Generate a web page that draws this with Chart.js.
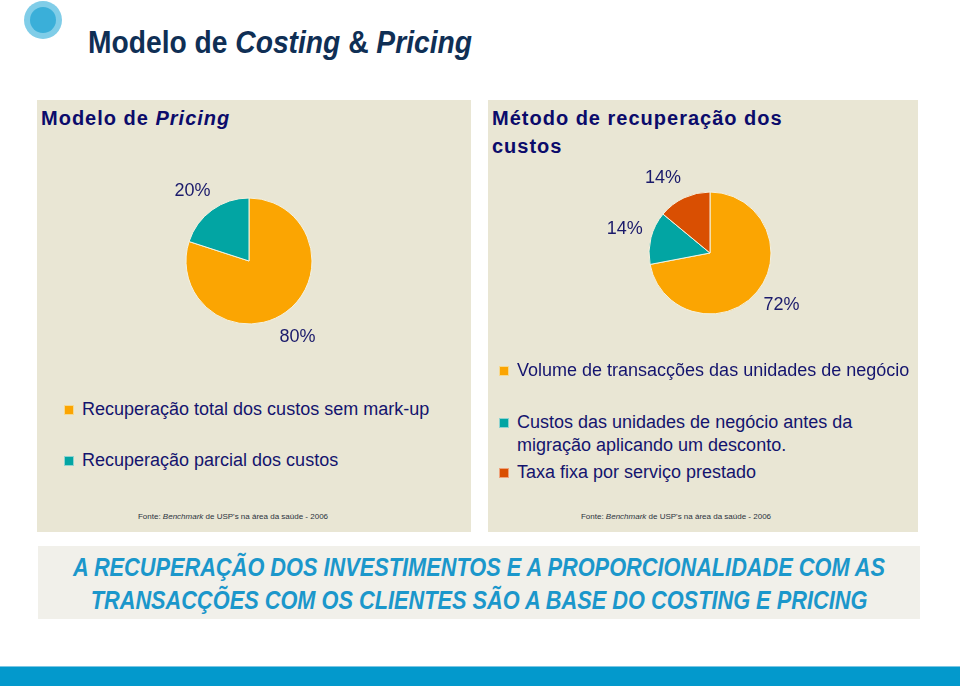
<!DOCTYPE html>
<html>
<head>
<meta charset="utf-8">
<script src="https://cdn.jsdelivr.net/npm/chart.js@4.4.0/dist/chart.umd.min.js"></script>
<style>
  body { margin: 0; width: 960px; height: 686px; background: #fff; position: relative; overflow: hidden;
         font-family: "Liberation Sans", Arial, sans-serif; }
  .abs { position: absolute; }
  .dot { left: 24px; top: 1px; width: 38px; height: 38px; border-radius: 50%; background: #80cde8; }
  .dot::after { content: ''; position: absolute; left: 6px; top: 6px; width: 26px; height: 26px; border-radius: 50%; background: #3aafd9; }
  h1 { position: absolute; left: 88px; top: 25px; margin: 0; font: bold 31px "Liberation Sans", Arial, sans-serif;
       color: #0f2f55; white-space: nowrap; transform: scaleX(0.91); transform-origin: left top; }
  .panel { background: #e9e6d4; }
  .ptitle { font-weight: bold; font-size: 20px; letter-spacing: 1px; color: #0b0b6b; line-height: 28px; }
  .leg { font-size: 18px; color: #14146e; line-height: 23px; white-space: nowrap; }
  .leg .sw { position: absolute; left: 0; top: 7px; width: 8px; height: 8px; border: 1px solid; }
  .leg .tx { position: absolute; left: 18px; top: 0; }
  .src { font-size: 8px; color: #2b3340; white-space: nowrap; transform: translateX(-50%); }
  .banner { left: 38px; top: 546px; width: 882px; height: 73px; background: #f1f0ea; }
  .bline { position: absolute; left: 50%; white-space: nowrap;
           font: italic bold 25px/33px "Liberation Sans", Arial, sans-serif; color: #1b97cb;
           transform: translateX(-50%) scaleX(0.87); transform-origin: center top; }
  .bar { left: 0; top: 666px; width: 960px; height: 20px; background: #0399cc; border-top: 1px solid #7cc6e3; box-sizing: border-box; }
  canvas { position: absolute; }
</style>
</head>
<body>
<div class="abs dot"></div>
<h1>Modelo de <i>Costing</i> &amp; <i>Pricing</i></h1>

<div class="abs panel" style="left:37px;top:100px;width:434px;height:432px"></div>
<div class="abs panel" style="left:488px;top:100px;width:430px;height:432px"></div>

<div class="abs ptitle" style="left:41px;top:104px">Modelo de <i>Pricing</i></div>
<div class="abs ptitle" style="left:492px;top:104px;width:320px">Método de recuperação dos<br>custos</div>

<canvas id="pricing" width="220" height="220" style="left:139px;top:151px"></canvas>
<canvas id="recovery" width="220" height="220" style="left:600px;top:143px"></canvas>

<div id="legPricing"></div>
<div id="legRecovery"></div>

<div class="abs src" style="left:233px;top:512px">Fonte: <i>Benchmark</i> de USP's na área da saúde - 2006</div>
<div class="abs src" style="left:676px;top:512px">Fonte: <i>Benchmark</i> de USP's na área da saúde - 2006</div>

<div class="abs banner">
  <div class="bline" style="top:5px">A RECUPERAÇÃO DOS INVESTIMENTOS E A PROPORCIONALIDADE COM AS</div>
  <div class="bline" style="top:38px">TRANSACÇÕES COM OS CLIENTES SÃO A BASE DO COSTING E PRICING</div>
</div>
<div class="abs bar"></div>

<script>
// data
const pricingLabels = ['Recuperação total dos custos sem mark-up', 'Recuperação parcial dos custos'];
const pricingValues = [80, 20];
const pricingColors = ['#fba502', '#02a5a3'];

const recoveryLabels = [
    'Volume de transacções das unidades de negócio',
    'Custos das unidades de negócio antes da migração aplicando um desconto.',
    'Taxa fixa por serviço prestado'
];
const recoveryValues = [72, 14, 14];
const recoveryColors = ['#fba502', '#02a5a3', '#d94f02'];

// percent labels outside each slice
const outerLabels = {
    id: 'outerLabels',
    afterDatasetsDraw(chart, args, opts) {
        const ctx = chart.ctx;
        const values = chart.data.datasets[0].data;
        ctx.save();
        ctx.font = '18px "Liberation Sans", Arial, sans-serif';
        ctx.fillStyle = '#1a1a6b';
        ctx.textAlign = 'center';
        ctx.textBaseline = 'middle';
        chart.getDatasetMeta(0).data.forEach((arc, i) => {
            const p = arc.getProps(['x', 'y', 'startAngle', 'endAngle', 'outerRadius'], true);
            const mid = (p.startAngle + p.endAngle) / 2 + ((opts.shift && opts.shift[i]) || 0);
            const r = p.outerRadius * opts.dist;
            ctx.fillText(values[i] + '%', p.x + Math.cos(mid) * r, p.y + Math.sin(mid) * r);
        });
        ctx.restore();
    }
};

function makePie(id, labels, values, colors, radius, dist, shift) {
    return new Chart(document.getElementById(id), {
        type: 'pie',
        data: {
            labels: labels,
            datasets: [{
                data: values,
                backgroundColor: colors,
                borderColor: '#f4f1e0',
                borderWidth: 1
            }]
        },
        options: {
            responsive: false,
            animation: false,
            radius: radius,
            plugins: {
                legend: { display: false },
                tooltip: { enabled: false },
                outerLabels: { dist: dist, shift: shift }
            }
        },
        plugins: [outerLabels]
    });
}

makePie('pricing', pricingLabels, pricingValues, pricingColors, 63, 1.43, [0.06, -0.05]);
makePie('recovery', recoveryLabels, recoveryValues, recoveryColors, 61, 1.45, [-0.06, 0.02, -0.12]);

// legends (html, built from the arrays)
function makeLegend(el, labels, colors, left, tops, widths) {
    const host = document.getElementById(el);
    labels.forEach((lab, i) => {
        const item = document.createElement('div');
        item.className = 'abs leg';
        item.style.left = left + 'px';
        item.style.top = tops[i] + 'px';
        const sw = document.createElement('span');
        sw.className = 'sw';
        sw.style.background = colors[i];
        sw.style.borderColor = '#f6d990';
        if (colors[i] === '#02a5a3') sw.style.borderColor = '#8fd3d0';
        if (colors[i] === '#d94f02') sw.style.borderColor = '#eea37c';
        const tx = document.createElement('span');
        tx.className = 'tx';
        if (widths[i]) { tx.style.whiteSpace = 'normal'; tx.style.width = widths[i] + 'px'; }
        tx.textContent = lab;
        item.appendChild(sw);
        item.appendChild(tx);
        host.appendChild(item);
    });
}

makeLegend('legPricing', pricingLabels, pricingColors, 64, [398, 449], [0, 0]);
makeLegend('legRecovery', recoveryLabels, recoveryColors, 499, [359, 411, 461], [0, 360, 0]);
</script>
</body>
</html>
